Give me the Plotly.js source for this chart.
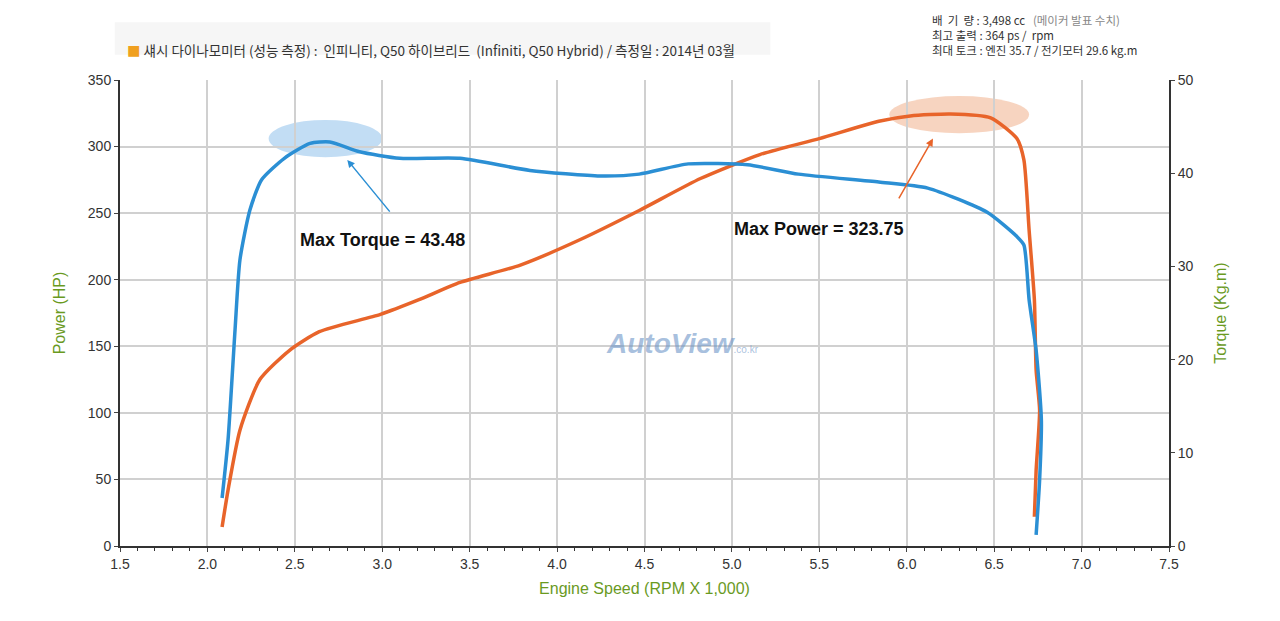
<!DOCTYPE html><html><head><meta charset="utf-8"><script src="https://cdn.plot.ly/plotly-3.0.1.min.js"></script>
<style>body{margin:0;background:#fff}</style></head><body><div id="c" style="width:1280px;height:621px"></div><script>
const torqueRpm=[2.084,2.118,2.158,2.186,2.243,2.31,2.44,2.587,2.70,2.87,3.10,3.445,3.845,4.246,4.47,4.75,5.09,5.38,5.84,6.12,6.46,6.63,6.67,6.70,6.74,6.77,6.76,6.74];
const torqueKgm=[5.15,11.4,23.2,30.7,36.05,39.3,41.6,43.2,43.35,42.3,41.6,41.6,40.3,39.7,39.9,41.0,40.9,39.9,39.05,38.4,35.8,33.2,32.3,26.4,21.0,13.5,7.1,1.2];
const powerRpm=[2.084,2.118,2.186,2.30,2.47,2.64,2.99,3.21,3.445,3.79,4.13,4.47,4.82,5.16,5.50,5.84,6.02,6.25,6.48,6.63,6.67,6.70,6.73,6.74,6.76,6.74,6.73];
const powerHp=[14.3,42,87,125,147,161,174,185,198,211,230,252,276,294,306,319,323,324.5,321.6,306,290,237,185,132,102,57,22];
const xTicks=[1.5,2.0,2.5,3.0,3.5,4.0,4.5,5.0,5.5,6.0,6.5,7.0,7.5];
const green='#6a9a1f';
const f='Arial, Liberation Sans, sans-serif';
Plotly.newPlot('c',[
{x:powerRpm,y:powerHp,mode:'lines',line:{color:'#e8642a',width:3.5,shape:'spline',smoothing:0.6},yaxis:'y'},
{x:torqueRpm,y:torqueKgm,mode:'lines',line:{color:'#2b8fd4',width:3.5,shape:'spline',smoothing:0.6},yaxis:'y2'}
],{
width:1280,height:621,showlegend:false,paper_bgcolor:'#fff',plot_bgcolor:'#fff',
margin:{l:120,r:111,t:80,b:75},
font:{family:f,size:14,color:'#333'},
xaxis:{range:[1.5,7.5],tickvals:xTicks,ticktext:xTicks.map(v=>v.toFixed(1)),showgrid:true,gridcolor:'#d0d0d0',gridwidth:2,zeroline:false,showline:true,linecolor:'#333',linewidth:2,ticks:'outside',ticklen:4,minor:{dtick:0.1,ticks:'outside',ticklen:3,tickcolor:'#333'},
 title:{text:'Engine Speed (RPM X 1,000)',font:{color:green,size:16},standoff:12}},
yaxis:{range:[0,350],dtick:50,showgrid:true,gridcolor:'#d0d0d0',gridwidth:2,zeroline:false,showline:true,linecolor:'#333',linewidth:2,ticks:'outside',ticklen:4,
 title:{text:'Power (HP)',font:{color:green,size:16},standoff:18}},
yaxis2:{range:[0,50],dtick:10,overlaying:'y',side:'right',showgrid:false,zeroline:false,showline:true,linecolor:'#333',linewidth:2,ticks:'outside',ticklen:4,
 title:{text:'Torque (Kg.m)',font:{color:green,size:16},standoff:22}},
shapes:[
{type:'circle',xref:'x',yref:'y',x0:2.35,x1:3.0,y0:292,y1:320,fillcolor:'rgba(120,180,230,0.45)',line:{width:0},layer:'below'},
{type:'circle',xref:'x',yref:'y',x0:5.9,x1:6.7,y0:310,y1:338,fillcolor:'rgba(240,170,130,0.5)',line:{width:0},layer:'below'},
{type:'rect',xref:'paper',yref:'paper',x0:-0.005,x1:0.62,y0:1.054,y1:1.124,fillcolor:'#f6f6f6',line:{width:0},layer:'below'}
],
annotations:[
{x:2.8,y:290,ax:3.05,ay:250,axref:'x',ayref:'y',xref:'x',yref:'y',showarrow:true,arrowhead:2,arrowsize:1,arrowwidth:1.5,arrowcolor:'#2b8fd4',text:''},
{x:6.15,y:306,ax:5.95,ay:260,axref:'x',ayref:'y',xref:'x',yref:'y',showarrow:true,arrowhead:2,arrowsize:1,arrowwidth:1.5,arrowcolor:'#e8642a',text:''},
{x:3.0,y:230,xref:'x',yref:'y',text:'<b>Max Torque = 43.48</b>',showarrow:false,font:{size:18,color:'#111'}},
{x:5.5,y:238,xref:'x',yref:'y',text:'<b>Max Power = 323.75</b>',showarrow:false,font:{size:18,color:'#111'}},
{x:4.72,y:152,xref:'x',yref:'y',text:'<b><i>AutoView</i></b><span style="font-size:10px">.co.kr</span>',showarrow:false,font:{size:28,color:'rgba(110,150,200,0.6)'}},
{xref:'paper',yref:'paper',x:0.005,y:1.09,xanchor:'left',showarrow:false,text:'<span style="color:#f0a020">■</span> 섀시 다이나모미터 (성능 측정) :  인피니티, Q50 하이브리드  (Infiniti, Q50 Hybrid) / 측정일 : 2014년 03월',font:{size:13.5,color:'#333',family:'Noto Sans CJK KR'}},
{xref:'paper',yref:'paper',x:0.772,y:1.15,xanchor:'left',yanchor:'top',align:'left',showarrow:false,text:'배  기  량 : 3,498 cc   <span style="color:#888">(메이커 발표 수치)</span><br>최고 출력 : 364 ps /  rpm<br>최대 토크 : 엔진 35.7 / 전기모터 29.6 kg.m',font:{size:11.5,color:'#333',family:'Noto Sans CJK KR'}}
]
},{displayModeBar:false});
</script></body></html>
